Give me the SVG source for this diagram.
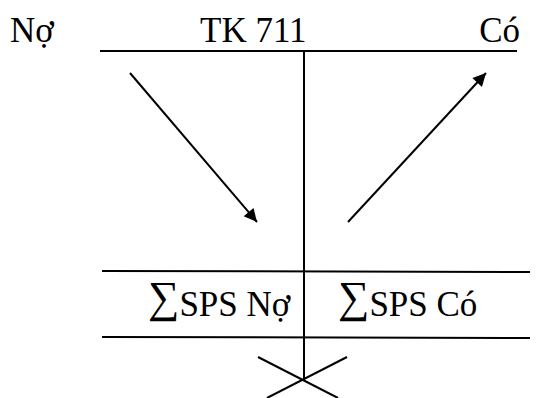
<svg xmlns="http://www.w3.org/2000/svg" width="536" height="398" viewBox="0 0 536 398">
<style>
text{font-family:"Liberation Serif","Times New Roman",serif;font-size:35px;fill:#000}
.sg{font-size:44px}
.ln{stroke:#000;stroke-width:2;fill:none}
</style>
<defs>
<marker id="ah" viewBox="0 0 10 10" refX="10" refY="5" markerWidth="7.5" markerHeight="6.5" markerUnits="strokeWidth" orient="auto"><path d="M0,0L10,5L0,10z" fill="#000"/></marker>
</defs>
<g id="labels">
<text x="10" y="42">Nợ</text>
<text x="200" y="42">TK 711</text>
<text x="520" y="42" text-anchor="end">Có</text>
</g>
<g id="sums">
<text x="148" y="316"><tspan class="sg" dy="-4">∑</tspan><tspan dy="4">SPS Nợ</tspan></text>
<text x="338" y="316"><tspan class="sg" dy="-4">∑</tspan><tspan dy="4">SPS Có</tspan></text>
</g>
<g id="connectors">
<line class="ln" x1="100" y1="51" x2="517" y2="51"/>
<line class="ln" x1="304" y1="51" x2="304" y2="380"/>
<line class="ln" x1="102" y1="271" x2="530" y2="272"/>
<line class="ln" x1="102" y1="337" x2="530" y2="338"/>
<line class="ln" x1="258" y1="357" x2="338" y2="398"/>
<line class="ln" x1="347" y1="357" x2="267" y2="398"/>
<line class="ln" x1="130" y1="73" x2="257" y2="222" marker-end="url(#ah)"/>
<line class="ln" x1="348" y1="222" x2="486" y2="73" marker-end="url(#ah)"/>
</g>
</svg>
